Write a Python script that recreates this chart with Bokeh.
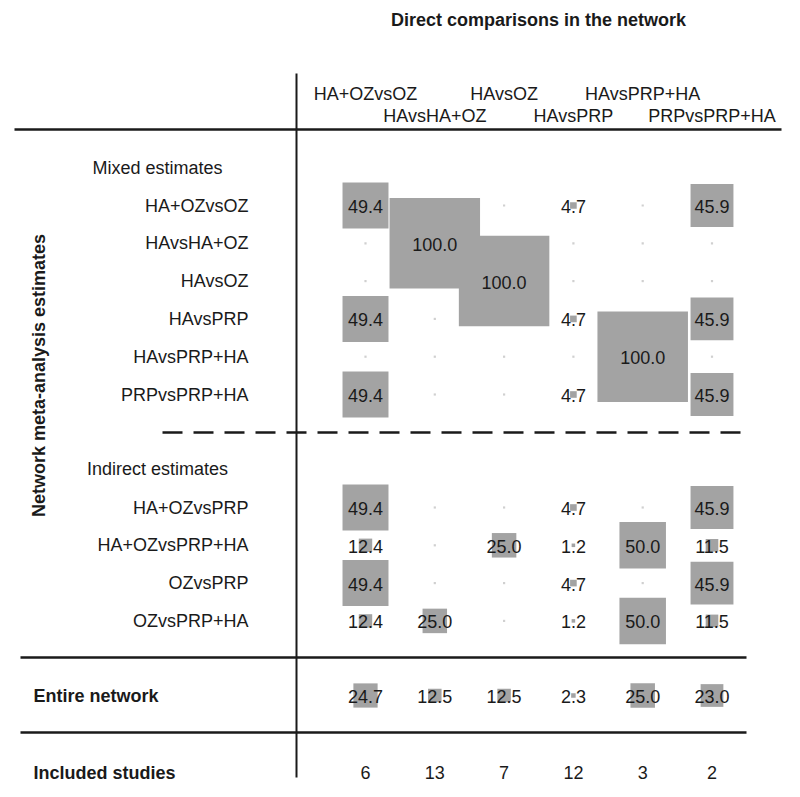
import math
from bokeh.plotting import figure
from bokeh.models import Range1d
from bokeh.embed import file_html
from bokeh.resources import INLINE
from bokeh.core.properties import value

# ---------------- data ----------------
comparisons = ["HA+OZvsOZ", "HAvsHA+OZ", "HAvsOZ", "HAvsPRP", "HAvsPRP+HA", "PRPvsPRP+HA"]

mixed_rows = ["HA+OZvsOZ", "HAvsHA+OZ", "HAvsOZ", "HAvsPRP", "HAvsPRP+HA", "PRPvsPRP+HA"]
mixed_values = [
    [49.4, 0, 0, 4.7, 0, 45.9],
    [0, 100.0, 0, 0, 0, 0],
    [0, 0, 100.0, 0, 0, 0],
    [49.4, 0, 0, 4.7, 0, 45.9],
    [0, 0, 0, 0, 100.0, 0],
    [49.4, 0, 0, 4.7, 0, 45.9],
]

indirect_rows = ["HA+OZvsPRP", "HA+OZvsPRP+HA", "OZvsPRP", "OZvsPRP+HA"]
indirect_values = [
    [49.4, 0, 0, 4.7, 0, 45.9],
    [12.4, 0, 25.0, 1.2, 50.0, 11.5],
    [49.4, 0, 0, 4.7, 0, 45.9],
    [12.4, 25.0, 0, 1.2, 50.0, 11.5],
]

entire_network = [24.7, 12.5, 12.5, 2.3, 25.0, 23.0]
included_studies = [6, 13, 7, 12, 3, 2]

title = "Direct comparisons in the network"
y_title = "Network meta-analysis estimates"

# ---------------- layout ----------------
FONT = value("Liberation Sans")
COL_X0, COL_DX = 365.0, 69.3
ROW_DY = 37.8
MIXED_Y0 = 205.0
INDIRECT_Y0 = 507.0
ENTIRE_Y = 695.0
INCLUDED_Y = 772.0
LABEL_RIGHT = 248.0
BOX_COLOR = "#a3a3a3"
TEXT_COLOR = "#1a1a1a"

p = figure(width=784, height=789, x_range=Range1d(0, 784), y_range=Range1d(789, 0),
           output_backend="svg", toolbar_location=None, min_border=0)
p.axis.visible = False
p.grid.visible = False
p.outline_line_color = None
p.background_fill_color = "white"

col_x = [COL_X0 + i * COL_DX for i in range(len(comparisons))]

cells = []
for r, row in enumerate(mixed_values):
    y = MIXED_Y0 + r * ROW_DY
    for c, v in enumerate(row):
        cells.append((col_x[c], y, v))
for r, row in enumerate(indirect_values):
    y = INDIRECT_Y0 + r * ROW_DY
    for c, v in enumerate(row):
        cells.append((col_x[c], y, v))
for c, v in enumerate(entire_network):
    cells.append((col_x[c], ENTIRE_Y, v))

nz = [(x, y, v) for (x, y, v) in cells if v > 0]
zz = [(x, y, v) for (x, y, v) in cells if v == 0]

# zero dots
p.scatter([t[0] for t in zz], [t[1] for t in zz], size=2.2, marker="square",
          fill_color="#d0d0d0", line_color=None)

# boxes (side proportional to contribution)
sides = [0.88 * t[2] + 2.5 for t in nz]
p.rect([t[0] for t in nz], [t[1] for t in nz], width=sides, height=sides,
       width_units="screen", height_units="screen",
       fill_color=BOX_COLOR, line_color=None)

# values
p.text([t[0] for t in nz], [t[1] + 1 for t in nz], text=["%.1f" % t[2] for t in nz],
       text_font=FONT, text_font_size="18px", text_align="center",
       text_baseline="middle", text_color=TEXT_COLOR)

p.text(col_x, [INCLUDED_Y] * len(col_x), text=[str(n) for n in included_studies],
       text_font=FONT, text_font_size="18px", text_align="center",
       text_baseline="middle", text_color=TEXT_COLOR)

# column headers (staggered)
p.text([col_x[i] for i in range(0, 6, 2)], [93] * 3, text=[comparisons[i] for i in range(0, 6, 2)],
       text_font=FONT, text_font_size="18px", text_align="center",
       text_baseline="middle", text_color=TEXT_COLOR)
p.text([col_x[i] for i in range(1, 6, 2)], [115] * 3, text=[comparisons[i] for i in range(1, 6, 2)],
       text_font=FONT, text_font_size="18px", text_align="center",
       text_baseline="middle", text_color=TEXT_COLOR)

# row labels
p.text([LABEL_RIGHT] * len(mixed_rows), [MIXED_Y0 + i * ROW_DY for i in range(len(mixed_rows))],
       text=mixed_rows, text_font=FONT, text_font_size="18px", text_align="right",
       text_baseline="middle", text_color=TEXT_COLOR)
p.text([LABEL_RIGHT] * len(indirect_rows), [INDIRECT_Y0 + i * ROW_DY for i in range(len(indirect_rows))],
       text=indirect_rows, text_font=FONT, text_font_size="18px", text_align="right",
       text_baseline="middle", text_color=TEXT_COLOR)

# section headers
p.text([157, 157], [167, 468], text=["Mixed estimates", "Indirect estimates"],
       text_font=FONT, text_font_size="18px", text_align="center",
       text_baseline="middle", text_color=TEXT_COLOR)

# bold labels
p.text([33, 33], [ENTIRE_Y, INCLUDED_Y], text=["Entire network", "Included studies"],
       text_font=FONT, text_font_size="18px", text_font_style="bold", text_align="left",
       text_baseline="middle", text_color=TEXT_COLOR)

p.text([538], [19], text=[title], text_font=FONT, text_font_size="18px",
       text_font_style="bold", text_align="center", text_baseline="middle",
       text_color=TEXT_COLOR)

p.text([38], [375], text=[y_title], angle=math.pi / 2, text_font=FONT,
       text_font_size="18px", text_font_style="bold", text_align="center",
       text_baseline="middle", text_color=TEXT_COLOR)

# rules
LINE = "#1a1a1a"
p.segment(x0=[14], y0=[129], x1=[781], y1=[129], line_color=LINE, line_width=2.5)
p.segment(x0=[296], y0=[73], x1=[296], y1=[777], line_color=LINE, line_width=2)
p.segment(x0=[20, 20], y0=[657, 732], x1=[746, 746], y1=[657, 732], line_color=LINE, line_width=2.5)
p.segment(x0=[162], y0=[432], x1=[746], y1=[432], line_color=LINE, line_width=2.5,
          line_dash="20 11")

open("out.html", "w").write(file_html(p, INLINE))
